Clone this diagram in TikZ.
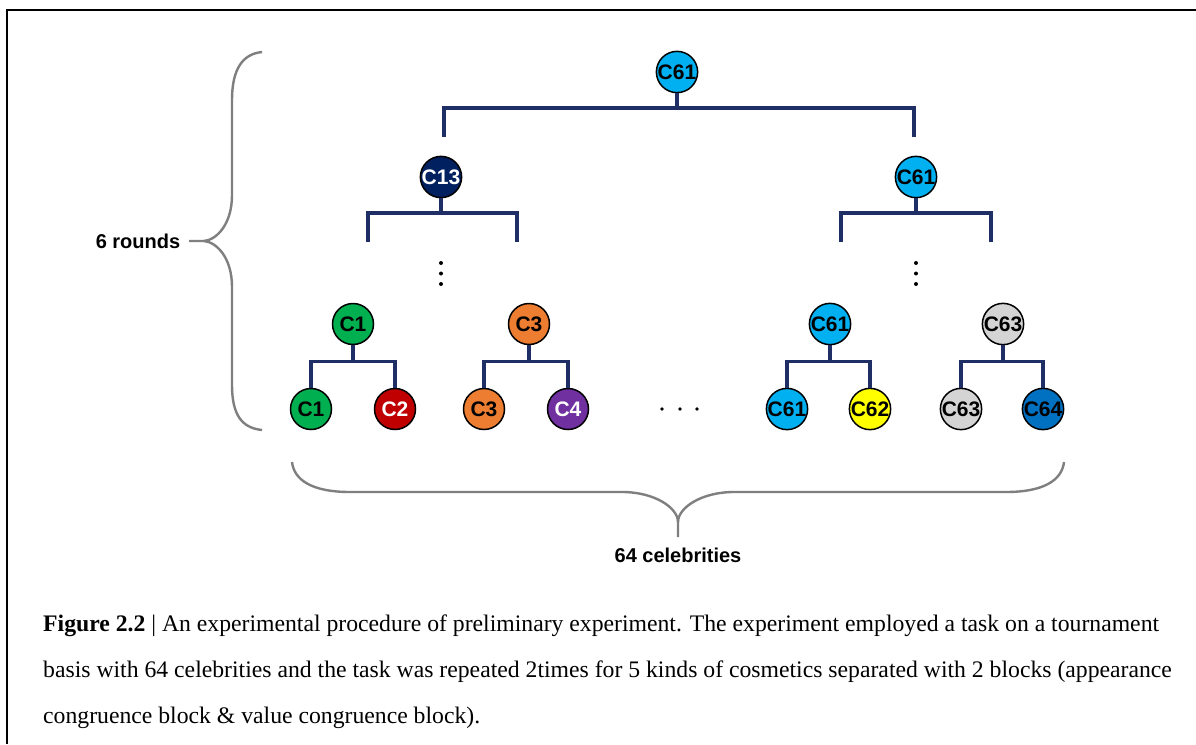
\documentclass[tikz,border=0pt]{standalone}
\usepackage{fontspec}
\setmainfont{Liberation Serif}
\newfontfamily\arialfont{Liberation Sans}
\definecolor{navy}{HTML}{1F2F66}
\definecolor{cgreen}{HTML}{00B050}
\definecolor{cred}{HTML}{C00000}
\definecolor{corange}{HTML}{ED7D31}
\definecolor{cpurple}{HTML}{7030A0}
\definecolor{clblue}{HTML}{00B0F0}
\definecolor{cyellow}{HTML}{FFFF00}
\definecolor{cgrey}{HTML}{D4D4D4}
\definecolor{cblue}{HTML}{0070C0}
\definecolor{cdark}{HTML}{002060}
\definecolor{bracegrey}{HTML}{7F7F7F}
\tikzset{
  celeb/.style={circle, draw=black, line width=1.5pt, minimum size=41pt, inner sep=0pt,
    font=\arialfont\bfseries\fontsize{21}{21}\selectfont},
  bracket/.style={draw=navy, line width=3.3pt},
  brace/.style={draw=bracegrey, line width=2.4pt},
  lbl/.style={font=\arialfont\bfseries\fontsize{20}{20}\selectfont, inner sep=0pt},
  captext/.style={anchor=base west, inner sep=0pt, font=\fontsize{23.7}{23.7}\selectfont},
}
\begin{document}
\begin{tikzpicture}[x=1pt,y=-1pt]
\useasboundingbox (0,0) rectangle (1196,744);
\fill[white] (0,0) rectangle (1196,744);
\draw[line width=2.4pt] (7,744) -- (7,10) -- (1196,10);

% nodes
\node[celeb, fill=clblue] (top) at (677,72) {C61};
\node[celeb, fill=cdark, text=white] (l2a) at (441,177) {C13};
\node[celeb, fill=clblue] (l2b) at (916,177) {C61};
\node[celeb, fill=cgreen] (l3a) at (353,324) {C1};
\node[celeb, fill=corange] (l3b) at (529,324) {C3};
\node[celeb, fill=clblue] (l3c) at (830,324) {C61};
\node[celeb, fill=cgrey] (l3d) at (1003,324) {C63};
\node[celeb, fill=cgreen] (b1) at (311,409) {C1};
\node[celeb, fill=cred, text=white] (b2) at (395,409) {C2};
\node[celeb, fill=corange] (b3) at (484,409) {C3};
\node[celeb, fill=cpurple, text=white] (b4) at (568,409) {C4};
\node[celeb, fill=clblue] (b5) at (787,409) {C61};
\node[celeb, fill=cyellow] (b6) at (870,409) {C62};
\node[celeb, fill=cgrey] (b7) at (961,409) {C63};
\node[celeb, fill=cblue] (b8) at (1043,409) {C64};

% top-level bracket with free ends
\coordinate (ta) at (444,137);
\coordinate (tb) at (914,137);
\draw[bracket] (top.south) -- (677,108) coordinate (tm);
\draw[bracket] (ta) -- (ta |- tm) -- (tb |- tm) -- (tb);
% second-level brackets
\coordinate (a1) at (368,242); \coordinate (a2) at (517,242);
\coordinate (c1) at (841,242); \coordinate (c2) at (991,242);
\draw[bracket] (l2a.south) -- (441,213);
\draw[bracket] (a1) -- (368,213) -- (517,213) -- (a2);
\draw[bracket] (l2b.south) -- (916,213);
\draw[bracket] (c1) -- (841,213) -- (991,213) -- (c2);
% third-level brackets
\foreach \p/\l/\r in {l3a/b1/b2, l3b/b3/b4, l3c/b5/b6, l3d/b7/b8}{
  \draw[bracket] (\p.south) -- ++(0,16) coordinate (m);
  \draw[bracket] (\l.north) -- (\l |- m) -- (\r |- m) -- (\r.north);
}

% vertical dots
\foreach \x in {441,916}{
  \foreach \y in {263,273.5,284}{ \fill (\x,\y) circle (2pt); }
}
% horizontal dots
\foreach \x in {662,680,697}{ \fill (\x,409) circle (1.8pt); }

% left brace
\draw[brace] (262,52) .. controls (242,54) and (232,70) .. (232,100) -- (232,195)
  .. controls (232,225) and (216,240) .. (204,241) -- (189,241);
\draw[brace] (204,241) .. controls (216,242) and (232,257) .. (232,287) -- (232,385)
  .. controls (232,415) and (242,428) .. (262,430);
\node[lbl] (rounds) at (138,241) {6 rounds};

% bottom brace
\draw[brace] (292,462) .. controls (294,480) and (312,492) .. (350,492) -- (622,492)
  .. controls (655,492) and (678,508) .. (678,522) -- (678,537);
\draw[brace] (1064,462) .. controls (1062,480) and (1044,492) .. (1006,492) -- (734,492)
  .. controls (701,492) and (678,508) .. (678,522);
\node[lbl] (celebs) at (678,555) {64 celebrities};

% caption
\node[captext] (cap1) at (43,631) {\textbf{Figure 2.2} | An experimental procedure of preliminary experiment. The experiment employed a task on a tournament};
\node[captext] (cap2) at (43,677) {basis with 64 celebrities and the task was repeated 2times for 5 kinds of cosmetics separated with 2 blocks (appearance};
\node[captext] (cap3) at (43,723) {congruence block \& value congruence block).};
\end{tikzpicture}
\end{document}
